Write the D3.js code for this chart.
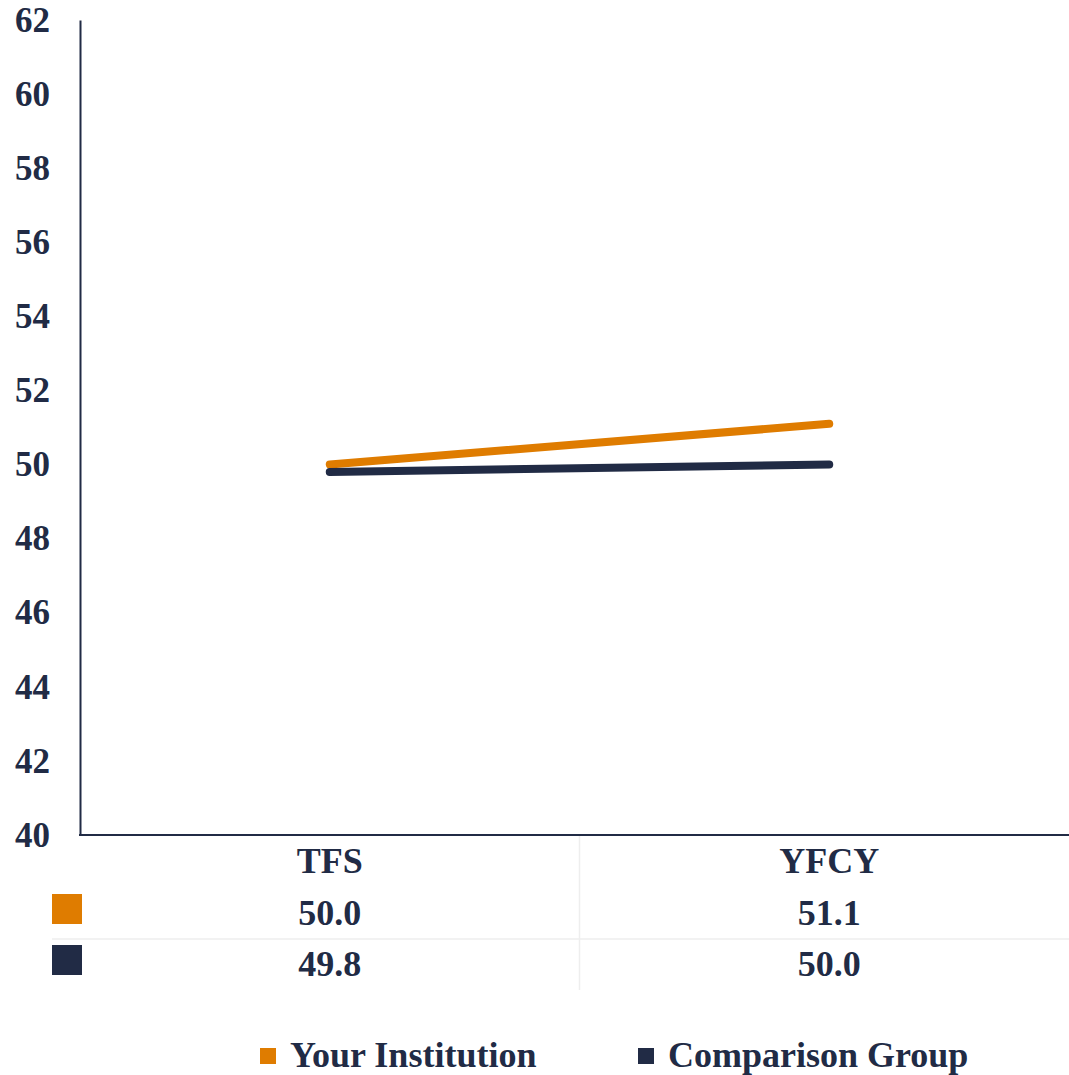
<!DOCTYPE html>
<html>
<head>
<meta charset="utf-8">
<script src="https://cdn.jsdelivr.net/npm/d3@7"></script>
<style>
  body { margin: 0; background: #fff; }
  svg text { font-weight: bold; fill: #212B45; }
</style>
</head>
<body>
<svg id="chart"></svg>
<script>
// data
const categories = ["TFS", "YFCY"];
const seriesNames = ["Your Institution", "Comparison Group"];
const yourInstitution = [50.0, 51.1];
const comparisonGroup = [49.8, 50.0];
const yTicks = [40, 42, 44, 46, 48, 50, 52, 54, 56, 58, 60, 62];
const colors = ["#DF7C00", "#212B45"];

const series = [yourInstitution, comparisonGroup];

const W = 1069, H = 1075;
const margin = {left: 80, top: 20, bottom: 835};

const svg = d3.select("#chart")
    .attr("width", W)
    .attr("height", H);

// pick a serif face that is really installed
function hasFont(name) {
    const probe = svg.append("text").attr("font-size", 40).text("Comparison Group 50.1");
    probe.attr("font-family", "monospace");
    const w0 = probe.node().getComputedTextLength();
    probe.attr("font-family", `"${name}", monospace`);
    const w1 = probe.node().getComputedTextLength();
    probe.remove();
    return Math.abs(w1 - w0) > 0.5;
}
const useLib = hasFont("Liberation Serif");
const fontFamily = useLib ? "'Liberation Serif', serif" : "'DejaVu Serif', serif";
const tickSize = useLib ? 35 : 30;
const labelSize = useLib ? 36 : 30;

const x = d3.scaleBand()
    .domain(categories)
    .range([margin.left, 1079])
    .padding(0);

const y = d3.scaleLinear()
    .domain([40, 62])
    .range([margin.bottom, margin.top]);

// table grid lines (light)
svg.append("line")
    .attr("x1", x("YFCY")).attr("x2", x("YFCY"))
    .attr("y1", margin.bottom).attr("y2", 990)
    .attr("stroke", "#eeeeee").attr("stroke-width", 1.5);
svg.append("line")
    .attr("x1", 52).attr("x2", W)
    .attr("y1", 939).attr("y2", 939)
    .attr("stroke", "#eeeeee").attr("stroke-width", 1.5);

// y axis
const yAxis = svg.append("g")
    .attr("transform", `translate(${margin.left},0)`)
    .call(d3.axisLeft(y).tickValues(yTicks).tickSize(0).tickPadding(30));
yAxis.attr("font-family", fontFamily).attr("font-size", tickSize);
yAxis.select(".domain").attr("stroke", "#212B45").attr("stroke-width", 2);
yAxis.selectAll("text").attr("fill", "#212B45");

// x axis baseline
svg.append("line")
    .attr("x1", margin.left - 1).attr("x2", W)
    .attr("y1", margin.bottom).attr("y2", margin.bottom)
    .attr("stroke", "#212B45").attr("stroke-width", 2);

// lines
const line = d3.line()
    .x((d, i) => x(categories[i]) + x.bandwidth() / 2)
    .y(d => y(d));

series.forEach((s, k) => {
    svg.append("path")
        .datum(s)
        .attr("d", line)
        .attr("fill", "none")
        .attr("stroke", colors[k])
        .attr("stroke-width", 8)
        .attr("stroke-linecap", "round");
});

// category labels
svg.selectAll(".cat")
    .data(categories)
    .join("text")
    .attr("class", "cat")
    .attr("x", d => x(d) + x.bandwidth() / 2)
    .attr("y", 873)
    .attr("text-anchor", "middle")
    .attr("font-family", fontFamily)
    .attr("font-size", labelSize)
    .text(d => d);

// data table rows
const rowY = [925, 976];
series.forEach((s, k) => {
    svg.append("rect")
        .attr("x", 52).attr("y", rowY[k] - 31)
        .attr("width", 30).attr("height", 30)
        .attr("fill", colors[k]);
    svg.selectAll(".val" + k)
        .data(s)
        .join("text")
        .attr("x", (d, i) => x(categories[i]) + x.bandwidth() / 2)
        .attr("y", rowY[k])
        .attr("text-anchor", "middle")
        .attr("font-family", fontFamily)
        .attr("font-size", labelSize)
        .text(d => d.toFixed(1));
});

// legend
const legendX = [260, 638];
seriesNames.forEach((name, k) => {
    svg.append("rect")
        .attr("x", legendX[k]).attr("y", 1048)
        .attr("width", 16).attr("height", 16)
        .attr("fill", colors[k]);
    svg.append("text")
        .attr("x", legendX[k] + 30)
        .attr("y", 1067)
        .attr("font-family", fontFamily)
        .attr("font-size", labelSize)
        .text(name);
});
</script>
</body>
</html>
